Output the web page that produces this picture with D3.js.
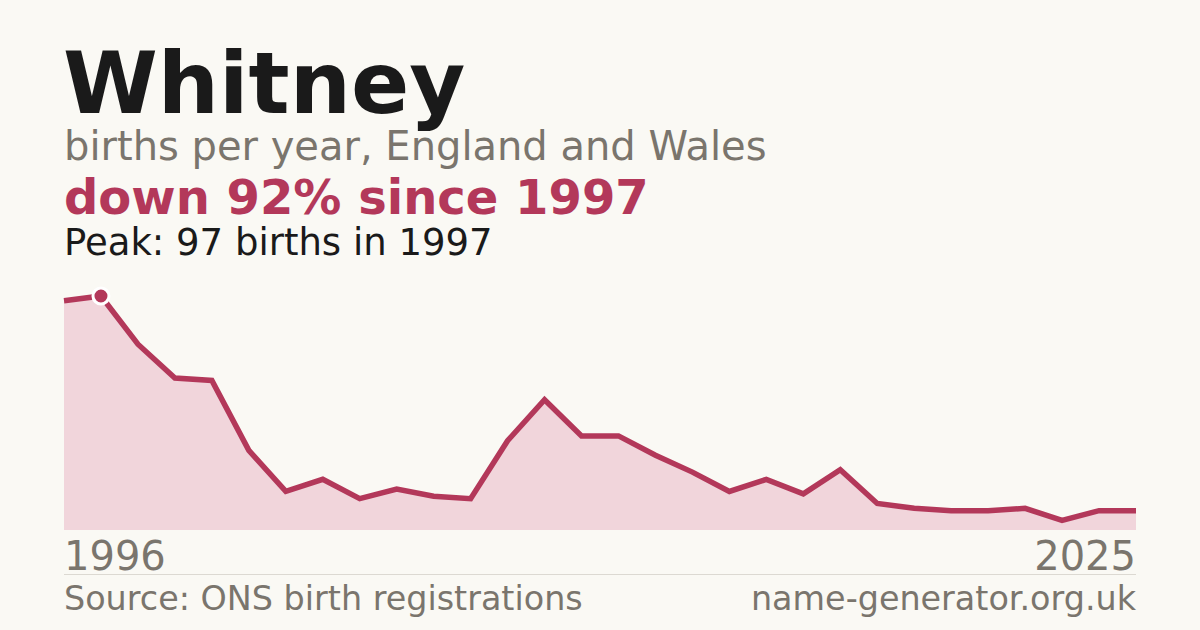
<!DOCTYPE html>
<html>
<head>
<meta charset="utf-8">
<script src="https://cdn.jsdelivr.net/npm/d3@7"></script>
<style>
  html, body { margin: 0; padding: 0; background: #faf9f4; }
  svg { display: block; font-family: "DejaVu Sans", sans-serif; }
</style>
</head>
<body>
<svg id="chart" width="1200" height="630"></svg>
<script>
const years = d3.range(1996, 2026);
const births = [95, 97, 77, 63, 62, 33, 16, 21, 13, 17, 14, 13, 37, 54, 39, 39, 31, 24, 16, 21, 15, 25, 11, 9, 8, 8, 9, 4, 8, 8];

const red = "#b3385a";
const grey = "#7a756d";

const svg = d3.select("#chart");
svg.append("rect").attr("width", 1200).attr("height", 630).attr("fill", "#faf9f4");

const x = d3.scaleLinear([1996, 2025], [64, 1136]);
const y = d3.scaleLinear([0, d3.max(births)], [530, 296]);

const data = years.map((yr, i) => ({ yr, v: births[i] }));

svg.append("path")
  .datum(data)
  .attr("fill", "#f1d5db")
  .attr("d", d3.area().x((d) => x(d.yr)).y0(y(0)).y1((d) => y(d.v)));

svg.append("path")
  .datum(data)
  .attr("fill", "none")
  .attr("stroke", red)
  .attr("stroke-width", 5.5)
  .attr("stroke-linejoin", "miter")
  .attr("d", d3.line().x((d) => x(d.yr)).y((d) => y(d.v)));

// Peak marker
const peak = data[d3.maxIndex(births)];
svg.append("circle")
  .attr("cx", x(peak.yr))
  .attr("cy", y(peak.v))
  .attr("r", 8)
  .attr("fill", red)
  .attr("stroke", "#ffffff")
  .attr("stroke-width", 3);

// Titles
svg.append("text").attr("x", 63).attr("y", 113)
  .attr("font-size", 86).attr("font-weight", "bold").attr("fill", "#1a1a1a")
  .text("Whitney");
svg.append("text").attr("x", 64).attr("y", 160)
  .attr("font-size", 40).attr("fill", grey)
  .text("births per year, England and Wales");
svg.append("text").attr("x", 64).attr("y", 214)
  .attr("font-size", 48).attr("font-weight", "bold").attr("fill", red)
  .text("down 92% since 1997");
svg.append("text").attr("x", 64).attr("y", 255)
  .attr("font-size", 37).attr("fill", "#1a1a1a")
  .text("Peak: 97 births in 1997");

// Axis end labels
svg.append("text").attr("x", x(1996)).attr("y", 570)
  .attr("font-size", 40).attr("fill", grey)
  .text(years[0]);
svg.append("text").attr("x", x(2025)).attr("y", 570)
  .attr("font-size", 40).attr("fill", grey).attr("text-anchor", "end")
  .text(years[years.length - 1]);

svg.append("line").attr("x1", 64).attr("x2", 1136).attr("y1", 574.5).attr("y2", 574.5)
  .attr("stroke", "#dcd9d2").attr("stroke-width", 1);

svg.append("text").attr("x", 64).attr("y", 610)
  .attr("font-size", 33.4).attr("fill", grey)
  .text("Source: ONS birth registrations");
svg.append("text").attr("x", 1136).attr("y", 610)
  .attr("font-size", 33.4).attr("fill", grey).attr("text-anchor", "end")
  .text("name-generator.org.uk");
</script>
</body>
</html>
